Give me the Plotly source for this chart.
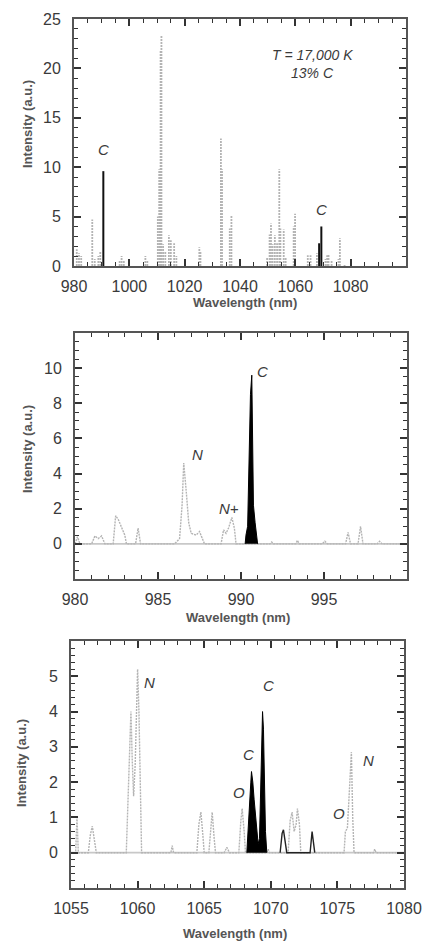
import plotly.graph_objects as go

W, H = 425, 941

# ---------------- Panel 1: survey spectrum 980-1100 nm (line positions / peak heights)
survey_nm = [981.0, 981.8, 982.6, 986.6, 987.5, 988.8, 989.5, 996.5, 997.2, 998.0,
             1005.8, 1006.5, 1010.3, 1010.8, 1011.3, 1011.6, 1012.2, 1013.0, 1014.3,
             1015.0, 1016.2, 1017.0, 1025.3, 1025.7, 1033.1, 1033.5, 1036.3, 1036.9,
             1049.8, 1050.7, 1051.2, 1051.8, 1052.6, 1053.4, 1054.2, 1054.6, 1055.8,
             1056.5, 1059.4, 1059.9, 1064.5, 1065.5, 1067.8, 1070.9, 1071.5, 1072.0,
             1073.1, 1075.6, 1076.1, 1077.8]
survey_int = [1.7, 1.3, 1.0, 4.7, 0.7, 1.0, 1.5, 0.6, 1.0, 0.5,
              1.0, 0.6, 5.0, 9.8, 21.8, 23.3, 2.2, 1.5, 3.1,
              2.6, 2.3, 1.0, 1.9, 1.5, 12.9, 9.8, 3.8, 5.1,
              0.8, 3.2, 4.3, 2.2, 3.1, 2.3, 9.8, 3.8, 3.7,
              0.8, 4.0, 5.3, 1.1, 1.1, 1.3, 0.7, 1.1, 1.2,
              0.6, 0.7, 2.8, 0.1]
survey_c_nm = [990.6, 1068.6, 1069.4]
survey_c_int = [9.6, 2.3, 4.0]

# ---------------- Panel 2: 980-1000 nm detail
p2_nm = [980.0, 980.15, 980.3, 981.0, 981.2, 981.4, 981.6, 981.8, 982.3, 982.45,
         982.6, 982.8, 983.0, 983.1, 983.65, 983.8, 983.95, 986.0, 986.15, 986.3,
         986.45, 986.55, 986.7, 986.85, 987.0, 987.3, 987.5, 987.7, 987.8, 988.8,
         988.95, 989.1, 989.25, 989.45, 989.6, 989.7, 991.75, 991.85, 991.95, 993.3,
         993.4, 993.5, 994.9, 995.05, 995.2, 996.3, 996.45, 996.6, 997.05, 997.2,
         997.35, 998.2, 998.35, 998.5, 1000.0]
p2_int = [0, 0.4, 0, 0, 0.45, 0.3, 0.45, 0, 0, 1.6,
          1.4, 0.9, 0.5, 0, 0, 0.9, 0, 0, 0.15, 0.3,
          2.2, 4.6, 3.0, 1.2, 0.6, 0.5, 0.7, 0.3, 0, 0,
          0.8, 0.6, 0.9, 1.5, 0.9, 0, 0, 0.1, 0, 0,
          0.2, 0, 0, 0.15, 0, 0, 0.65, 0, 0, 1.0,
          0, 0, 0.15, 0, 0]
p2_c_nm = [990.25, 990.3, 990.4, 990.45, 990.5, 990.57, 990.65, 990.7, 990.75,
           990.85, 990.95, 991.0]
p2_c_int = [0, 0.5, 1.0, 3.3, 6.4, 8.5, 9.6, 4.8, 2.2, 1.2, 0.4, 0]

# ---------------- Panel 3: 1055-1080 nm detail
p3_nm = [1055.0, 1055.35, 1055.45, 1055.55, 1056.3, 1056.45, 1056.6, 1056.75, 1056.9,
         1059.15, 1059.3, 1059.4, 1059.5, 1059.6, 1059.7, 1059.82, 1059.92, 1060.0,
         1060.1, 1060.2, 1060.3, 1062.5, 1062.6, 1062.7, 1064.45, 1064.6, 1064.75,
         1064.9, 1065.0, 1065.35, 1065.5, 1065.6, 1065.75, 1065.85, 1066.5, 1066.7,
         1066.9, 1067.6, 1067.75, 1067.85, 1068.0, 1068.1, 1069.7, 1069.8, 1069.9,
         1071.3, 1071.45, 1071.6, 1071.75, 1071.9, 1072.0, 1072.15, 1072.25, 1075.5,
         1075.6, 1075.75, 1075.85, 1075.95, 1076.05, 1076.15, 1076.25, 1077.7, 1077.8,
         1077.9, 1080.0]
p3_int = [0, 0, 1.0, 0, 0, 0.5, 0.75, 0.4, 0,
          0, 1.7, 3.3, 4.0, 2.6, 1.6, 2.5, 4.6, 5.2,
          4.0, 1.5, 0, 0, 0.2, 0, 0, 0.8, 1.15,
          0.5, 0, 0, 0.7, 1.15, 0.4, 0, 0, 0.15,
          0, 0, 0.9, 1.25, 0.6, 0, 0, 0.1, 0,
          0, 0.9, 1.15, 0.6, 0.8, 1.25, 0.8, 0, 0,
          0.6, 0.7, 1.4, 2.4, 2.85, 1.0, 0, 0, 0.1,
          0, 0]
p3_c_nm = [1068.2, 1068.3, 1068.4, 1068.5, 1068.55, 1068.65, 1068.75, 1068.85, 1068.95,
           1069.05, 1069.15, 1069.25, 1069.32, 1069.38, 1069.45, 1069.52, 1069.6, 1069.7]
p3_c_int = [0, 0.8, 1.6, 2.0, 2.3, 2.0, 1.5, 1.1, 0.5,
            0.25, 0.4, 1.9, 3.2, 4.0, 3.5, 2.0, 0.6, 0]
p3_other_nm = [1070.7, 1070.85, 1070.95, 1071.05, 1071.2, 1072.95, 1073.1, 1073.2, 1073.3]
p3_other_int = [0, 0.55, 0.65, 0.4, 0, 0, 0.6, 0.3, 0]

# ---------------- axis ranges / ticks
p1_xrange, p1_yrange = [980, 1100], [0, 25]
p2_xrange, p2_yrange = [980, 1000], [-2, 12]
p3_xrange, p3_yrange = [1055, 1080], [-1, 6]
p1_xticks, p1_yticks = [980, 1000, 1020, 1040, 1060, 1080], [0, 5, 10, 15, 20, 25]
p2_xticks, p2_yticks = [980, 985, 990, 995], [0, 2, 4, 6, 8, 10]
p3_xticks, p3_yticks = [1055, 1060, 1065, 1070, 1075, 1080], [0, 1, 2, 3, 4, 5]

# plot boxes in pixels: left, right, top, bottom
boxes = [(74, 406, 19, 266), (75, 407, 333, 579), (71, 404, 641, 888)]

GRAY = "#b4b4b4"
FONT = "Liberation Sans, Arial, sans-serif"
TXT = "#3a3a3a"


def stems(xs, ys):
    sx, sy = [], []
    for x, y in zip(xs, ys):
        sx += [x, x, None]
        sy += [0, y, None]
    return sx, sy


fig = go.Figure()

# panel 1
sx, sy = stems(survey_nm, survey_int)
fig.add_trace(go.Scatter(x=sx, y=sy, mode="lines", xaxis="x", yaxis="y",
                         line=dict(color=GRAY, width=1.8, dash="2px,1px")))
sx, sy = stems(survey_c_nm, survey_c_int)
fig.add_trace(go.Scatter(x=sx, y=sy, mode="lines", xaxis="x", yaxis="y",
                         line=dict(color="#111", width=2)))

# panel 2
fig.add_trace(go.Scatter(x=p2_xrange, y=[0, 0], mode="lines", xaxis="x2", yaxis="y2",
                         line=dict(color="#c8c8c8", width=1.8)))
fig.add_trace(go.Scatter(x=p2_nm, y=p2_int, mode="lines", xaxis="x2", yaxis="y2",
                         line=dict(color=GRAY, width=1.4, dash="2px,1px")))
fig.add_trace(go.Scatter(x=p2_c_nm, y=p2_c_int, mode="lines", xaxis="x2", yaxis="y2",
                         fill="tozeroy", fillcolor="#000", line=dict(color="#000", width=1)))

# panel 3
fig.add_trace(go.Scatter(x=p3_xrange, y=[0, 0], mode="lines", xaxis="x3", yaxis="y3",
                         line=dict(color="#c8c8c8", width=1.8)))
fig.add_trace(go.Scatter(x=p3_nm, y=p3_int, mode="lines", xaxis="x3", yaxis="y3",
                         line=dict(color=GRAY, width=1.4, dash="2px,1px")))
fig.add_trace(go.Scatter(x=p3_c_nm, y=p3_c_int, mode="lines", xaxis="x3", yaxis="y3",
                         fill="tozeroy", fillcolor="#000", line=dict(color="#000", width=1)))
fig.add_trace(go.Scatter(x=p3_other_nm, y=p3_other_int, mode="lines", xaxis="x3", yaxis="y3",
                         line=dict(color="#222", width=1.4)))


def axis_common(rng, ticks, minor_dtick, domain):
    return dict(range=rng, domain=domain, tickmode="array", tickvals=ticks,
                automargin=False,
                ticks="inside", ticklen=7, tickwidth=1.5, tickcolor="#333",
                showline=True, linewidth=2, linecolor="#555", mirror="ticks",
                showgrid=False, zeroline=False,
                tickfont=dict(family=FONT, size=16, color=TXT),
                minor=dict(ticks="inside", ticklen=4, tickwidth=1.2, tickcolor="#333",
                           tickmode="linear", tick0=rng[0], dtick=minor_dtick,
                           showgrid=False))


specs = [(p1_xrange, p1_yrange, p1_xticks, p1_yticks, 5, 1),
         (p2_xrange, p2_yrange, p2_xticks, p2_yticks, 1, 0.5),
         (p3_xrange, p3_yrange, p3_xticks, p3_yticks, 1, 0.2)]

layout = dict(template="none", width=W, height=H, autosize=False,
              margin=dict(l=0, r=0, t=0, b=0, pad=0),
              paper_bgcolor="white", plot_bgcolor="white", showlegend=False)
for i, ((xr, yr, xt, yt, xm, ym), (l, r, t, b)) in enumerate(zip(specs, boxes)):
    sfx = "" if i == 0 else str(i + 1)
    xa = axis_common(xr, xt, xm, [l / W, r / W])
    xa.update(anchor="y" + sfx, ticklabelstandoff=5)
    ya = axis_common(yr, yt, ym, [1 - b / H, 1 - t / H])
    ya.update(anchor="x" + sfx, ticklabelstandoff=8)
    layout["xaxis" + sfx] = xa
    layout["yaxis" + sfx] = ya
fig.update_layout(**layout)

# axis titles
ytitle_pos = [(28, 124), (27, 449), (21, 763)]
xtitle_pos = [(245, 302), (238, 617), (235, 933)]
for (x, y) in ytitle_pos:
    fig.add_annotation(text="<b>Intensity (a.u.)</b>", x=x / W, y=1 - y / H, xref="paper",
                       yref="paper", xanchor="center", yanchor="middle", showarrow=False,
                       textangle=-90, font=dict(family=FONT, size=13, color="#555"))
for (x, y) in xtitle_pos:
    fig.add_annotation(text="<b>Wavelength (nm)</b>", x=x / W, y=1 - y / H, xref="paper",
                       yref="paper", xanchor="center", yanchor="middle", showarrow=False,
                       font=dict(family=FONT, size=13, color="#555"))

# species labels
labels = [("x", "y", 990.5, 11.8, "C"), ("x", "y", 1069.6, 5.7, "C"),
          ("x2", "y2", 991.3, 9.8, "C"), ("x2", "y2", 987.35, 5.1, "N"),
          ("x2", "y2", 989.3, 2.0, "N+"),
          ("x3", "y3", 1060.9, 4.83, "N"), ("x3", "y3", 1069.8, 4.74, "C"),
          ("x3", "y3", 1068.3, 2.78, "C"), ("x3", "y3", 1067.6, 1.7, "O"),
          ("x3", "y3", 1077.3, 2.6, "N"), ("x3", "y3", 1075.1, 1.1, "O")]
for xr_, yr_, x, y, s in labels:
    fig.add_annotation(text="<i>%s</i>" % s, x=x, y=y, xref=xr_, yref=yr_, showarrow=False,
                       xanchor="center", yanchor="middle",
                       font=dict(family=FONT, size=15, color=TXT))

fig.add_annotation(text="<i>T = 17,000 K</i>", x=312 / W, y=1 - 55 / H, xref="paper",
                   yref="paper", xanchor="center", yanchor="middle", showarrow=False,
                   font=dict(family=FONT, size=14, color=TXT))
fig.add_annotation(text="<i>13% C</i>", x=312 / W, y=1 - 73 / H, xref="paper",
                   yref="paper", xanchor="center", yanchor="middle", showarrow=False,
                   font=dict(family=FONT, size=14, color=TXT))

fig.write_html("out.html")
